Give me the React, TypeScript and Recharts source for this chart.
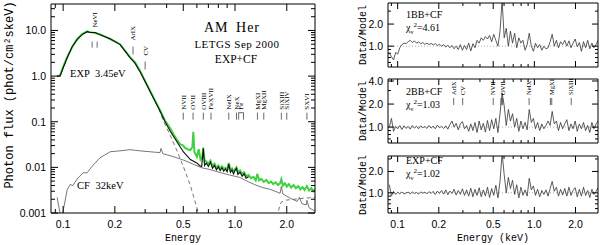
import React from 'react'
import { ComposedChart, Line, XAxis, YAxis, ReferenceLine } from 'recharts'

const SERIF = '"Liberation Serif", "Times New Roman", serif'
const MONO = '"Liberation Mono", "Courier New", monospace'
const SANS = '"Liberation Sans", Arial, sans-serif'

// ---- left panel: photon flux vs energy (keV) ----
const MODEL_E = [0.0923, 0.096, 0.1, 0.1055, 0.1128, 0.1206, 0.129, 0.138, 0.1435, 0.1534, 0.164, 0.1876, 0.2145, 0.245, 0.2623, 0.2804, 0.2998, 0.3205, 0.3427, 0.3664, 0.3918, 0.42, 0.46, 0.5, 0.55, 0.6, 0.62, 0.64, 0.654, 0.665, 0.68, 0.7, 0.72, 0.74, 0.76, 0.78, 0.8, 0.82, 0.84, 0.86, 0.88, 0.9, 0.92, 0.94, 0.96, 0.98, 1.0, 1.02, 1.04, 1.07, 1.1, 1.13, 1.16, 1.2]
const MODEL_F = [1.0, 1.0, 1.5, 2.5, 4.4, 6.3, 8.1, 9.4, 9.0, 9.0, 8.1, 6.6, 4.9, 2.55, 1.9, 1.25, 0.76, 0.46, 0.28, 0.17, 0.1, 0.062, 0.036, 0.022, 0.0148, 0.0125, 0.011, 0.0105, 0.026, 0.011, 0.0125, 0.0105, 0.013, 0.0095, 0.011, 0.0088, 0.0102, 0.0085, 0.0098, 0.0082, 0.0092, 0.008, 0.0118, 0.0078, 0.0088, 0.0072, 0.0085, 0.0095, 0.007, 0.0078, 0.0064, 0.0072, 0.0058, 0.0062]

const EXP_E = [0.0923, 0.096, 0.1, 0.1055, 0.1128, 0.1206, 0.129, 0.138, 0.1435, 0.1534, 0.164, 0.1876, 0.2145, 0.245, 0.2623, 0.2804, 0.2998, 0.3205, 0.3427, 0.3664, 0.38, 0.42, 0.46, 0.5, 0.55, 0.6, 0.63]
const EXP_F = [1.0, 1.0, 1.5, 2.5, 4.4, 6.3, 8.1, 9.4, 9.0, 9.0, 8.1, 6.6, 4.9, 2.55, 1.9, 1.25, 0.76, 0.46, 0.28, 0.165, 0.112, 0.05, 0.023, 0.0105, 0.004, 0.0013, 0.0007]

const DATA_E = [0.0923, 0.096, 0.1, 0.1055, 0.1128, 0.1206, 0.129, 0.138, 0.1435, 0.1534,
  0.164, 0.1876, 0.2145, 0.245, 0.2623, 0.2804, 0.2998, 0.3205, 0.3427, 0.3664,
  0.3918, 0.42, 0.44, 0.46, 0.48, 0.5, 0.51, 0.53, 0.55, 0.565,
  0.572, 0.58, 0.6, 0.615, 0.63, 0.645, 0.654, 0.665, 0.68, 0.7,
  0.72, 0.74, 0.76, 0.78, 0.8, 0.82, 0.84, 0.86, 0.88, 0.9,
  0.92, 0.94, 0.96, 0.98, 1.0, 1.02, 1.04, 1.07, 1.1, 1.13,
  1.16, 1.2, 1.24, 1.28, 1.32, 1.35, 1.38, 1.42, 1.47, 1.52,
  1.57, 1.62, 1.67, 1.72, 1.78, 1.83, 1.86, 1.9, 1.95, 2.0,
  2.06, 2.12, 2.19, 2.26, 2.33, 2.4, 2.47, 2.54, 2.62, 2.7,
  2.78, 2.86, 2.92]
const DATA_F = [1.0, 1.05, 1.6, 2.6, 4.3, 6.5, 8.3, 9.6, 9.2, 8.8,
  8.2, 6.5, 5.0, 2.6, 2.0, 1.3, 0.78, 0.48, 0.29, 0.18,
  0.105, 0.072, 0.052, 0.04, 0.032, 0.03, 0.027, 0.025, 0.024, 0.028,
  0.06, 0.022, 0.017, 0.025, 0.0148, 0.017, 0.027, 0.014, 0.0135, 0.012,
  0.014, 0.0105, 0.012, 0.0098, 0.011, 0.0095, 0.0105, 0.0092, 0.0098, 0.0088,
  0.0125, 0.0088, 0.0095, 0.008, 0.0092, 0.01, 0.0078, 0.0085, 0.0072, 0.0078,
  0.0064, 0.0068, 0.0058, 0.0062, 0.0052, 0.0072, 0.0052, 0.0056, 0.0048, 0.0053,
  0.0045, 0.0049, 0.0043, 0.0047, 0.0041, 0.0045, 0.0055, 0.004, 0.0045, 0.0038,
  0.0043, 0.0036, 0.0041, 0.0035, 0.0039, 0.0033, 0.0037, 0.0032, 0.0039, 0.0031,
  0.0035, 0.003, 0.0033]

const CF_E = [0.0923, 0.094, 0.096, 0.098, 0.1, 0.1055, 0.1098, 0.114, 0.122, 0.131,
  0.138, 0.147, 0.164, 0.188, 0.214, 0.245, 0.28, 0.32, 0.366, 0.371,
  0.38, 0.437, 0.5, 0.57, 0.64, 0.71, 0.82, 0.93, 1.07, 1.2,
  1.3, 1.45, 1.6, 1.75, 1.83, 1.86, 1.9, 2.1, 2.3, 2.37,
  2.45, 2.6, 2.62, 2.7, 2.92]
const CF_F = [0.0022, 0.0015, 0.001, 0.0009, 0.0011, 0.0032, 0.0042, 0.004, 0.0059, 0.0076,
  0.0076, 0.0104, 0.0163, 0.022, 0.023, 0.0244, 0.023, 0.022, 0.021, 0.026,
  0.02, 0.0172, 0.0145, 0.0118, 0.0098, 0.009, 0.0077, 0.0068, 0.006, 0.0048,
  0.0042, 0.0036, 0.0033, 0.0029, 0.0027, 0.0038, 0.0026, 0.0021, 0.0018, 0.0022,
  0.0016, 0.0015, 0.0019, 0.0013, 0.0011]

const HOT_E = [1.75, 1.8, 1.85, 1.95, 2.2, 2.5, 2.92]
const HOT_F = [0.0008, 0.0012, 0.0017, 0.0019, 0.002, 0.0021, 0.0022]

// line identifications
const TOP_IDS = ['NeVI', 'ArIX', 'CV']
const TOP_ID_E = [0.153, 0.255, 0.3]
const MID_IDS = ['NVII', 'OVII', 'OVIII', 'FeXVII', 'NeIX', 'NeX', 'Fe', 'MgXI', 'MgXII', 'SiXIII', 'SiXIV', 'SXVI']
const MID_ID_E = [0.5, 0.57, 0.654, 0.725, 0.92, 1.02, 1.085, 1.35, 1.47, 1.86, 2.0, 2.62]
const RES_IDS = ['ArIX', 'CV', 'NVII', 'OVII', 'NeIX', 'MgXI', 'SiXIII']
const RES_ID_E = [0.257, 0.299, 0.5, 0.585, 0.915, 1.34, 1.86]

// ---- right panels: data / model ratios ----
const RES_E = [0.087, 0.0901, 0.0933, 0.0967, 0.1001, 0.1037, 0.1074, 0.1113, 0.1152, 0.1194,
  0.1236, 0.1281, 0.1326, 0.1374, 0.1423, 0.1474, 0.1527, 0.1581, 0.1638, 0.1696,
  0.1757, 0.182, 0.1885, 0.1952, 0.2022, 0.2095, 0.217, 0.2247, 0.2328, 0.2411,
  0.2497, 0.2587, 0.2679, 0.2775, 0.2875, 0.2977, 0.3084, 0.3194, 0.3309, 0.3427,
  0.355, 0.3677, 0.3808, 0.3945, 0.4086, 0.4232, 0.4383, 0.454, 0.4703, 0.4871,
  0.5045, 0.5226, 0.5413, 0.5607, 0.5807, 0.6015, 0.623, 0.6453, 0.6684, 0.6923,
  0.7171, 0.7428, 0.7694, 0.7969, 0.8254, 0.855, 0.8855, 0.9172, 0.9501, 0.9841,
  1.019, 1.056, 1.094, 1.133, 1.173, 1.215, 1.259, 1.304, 1.35, 1.399,
  1.449, 1.501, 1.554, 1.61, 1.668, 1.727, 1.789, 1.853, 1.919, 1.988,
  2.059, 2.133, 2.209, 2.288, 2.37, 2.455, 2.543, 2.634, 2.728, 2.826,
  2.92]
const RES_1BB = [0.8, 0.72, 0.65, 0.82, 0.78, 0.95, 1.05, 1.1, 1.08, 1.15,
  1.2, 1.12, 1.18, 1.1, 1.14, 1.08, 1.12, 1.06, 1.1, 1.05,
  1.09, 1.04, 1.08, 1.02, 1.06, 1.0, 1.05, 0.97, 1.03, 0.95,
  1.02, 0.92, 1.0, 0.9, 1.05, 0.88, 1.02, 0.9, 1.1, 0.86,
  1.08, 0.95, 1.2, 1.1, 1.3, 1.2, 1.35, 1.25, 1.4, 1.15,
  1.45, 1.2, 1.0, 1.6, 4.2, 1.3, 1.75, 1.0, 1.6, 1.1,
  1.5, 0.95, 1.3, 1.1, 1.2, 0.88, 1.05, 1.5, 1.0, 0.85,
  1.1, 0.95, 1.05, 0.88, 1.0, 0.92, 0.95, 1.15, 1.45, 1.0,
  1.2, 0.95, 1.15, 1.05, 1.2, 1.0, 1.18, 0.95, 1.1, 1.25,
  0.98, 1.12, 0.85, 1.15, 0.95, 1.2, 0.92, 1.1, 0.95, 1.05,
  1.2]
const RES_2BB = [1.0, 1.3, 0.88, 1.02, 0.95, 1.05, 0.93, 1.04, 0.96, 1.02,
  0.94, 1.05, 0.97, 1.03, 0.95, 1.04, 0.98, 1.02, 0.96, 1.05,
  0.97, 1.03, 0.95, 1.06, 0.98, 1.02, 0.96, 1.04, 0.94, 1.08,
  1.2, 1.0, 1.12, 0.92, 1.1, 1.18, 0.95, 1.05, 0.88, 1.1,
  0.9, 1.15, 0.85, 1.2, 0.92, 1.12, 0.86, 1.22, 0.9, 1.25,
  0.95, 1.3, 0.85, 1.5, 2.8, 1.9, 1.05, 1.7, 1.2, 1.5,
  1.0, 1.3, 0.88, 1.2, 0.95, 1.15, 0.92, 1.7, 1.15, 1.3,
  0.95, 1.15, 0.9, 1.1, 0.95, 1.05, 1.2, 1.05, 1.6, 1.1,
  1.2, 0.9, 1.15, 0.95, 1.1, 1.25, 0.9, 1.1, 0.95, 1.2,
  0.88, 1.1, 0.95, 1.15, 0.9, 1.05, 0.85, 1.15, 0.95, 1.1,
  1.2]
const RES_EXP = [1.3, 0.9, 1.05, 0.95, 1.02, 0.97, 1.03, 0.96, 1.0, 1.02,
  0.97, 1.03, 0.98, 1.01, 0.96, 1.03, 0.99, 1.02, 0.97, 1.04,
  0.98, 1.05, 0.95, 1.06, 0.98, 1.08, 0.96, 1.1, 0.94, 1.06,
  0.98, 1.12, 0.93, 1.08, 0.95, 1.14, 0.92, 1.1, 0.9, 1.16,
  0.88, 1.12, 0.92, 1.18, 0.88, 1.1, 0.9, 1.2, 0.86, 1.15,
  0.92, 1.28, 0.85, 1.45, 3.6, 1.8, 1.0, 1.65, 1.15, 1.5,
  0.95, 1.3, 0.85, 1.2, 0.92, 1.1, 0.9, 1.6, 1.1, 1.25,
  0.92, 1.12, 0.88, 1.08, 0.95, 1.1, 0.9, 1.15, 1.45, 1.05,
  1.2, 0.9, 1.12, 0.93, 1.15, 0.9, 1.2, 0.92, 1.08, 1.18,
  0.88, 1.12, 0.9, 1.2, 0.92, 1.08, 0.86, 1.12, 0.95, 1.05,
  1.18]

// axis ticks
const E_TICKS = [0.09, 0.1, 0.2, 0.3, 0.4, 0.5, 0.6, 0.7, 0.8, 0.9, 1, 2]
const E_LABELS: Record<string, string> = { '0.1': '0.1', '0.2': '0.2', '0.5': '0.5', '1': '1.0', '2': '2.0' }
const FLUX_TICKS = [0.001, 0.002, 0.003, 0.004, 0.005, 0.006, 0.007, 0.008, 0.009,
  0.01, 0.02, 0.03, 0.04, 0.05, 0.06, 0.07, 0.08, 0.09,
  0.1, 0.2, 0.3, 0.4, 0.5, 0.6, 0.7, 0.8, 0.9,
  1, 2, 3, 4, 5, 6, 7, 8, 9, 10, 20, 30]
const FLUX_LABELS: Record<string, string> = { '0.001': '0.001', '0.01': '0.01', '0.1': '0.1', '1': '1.0', '10': '10.0' }
const RATIO_TICKS_A = [0.6, 0.7, 0.8, 0.9, 1, 2, 3]
const RATIO_TICKS_B = [0.7, 0.8, 0.9, 1, 2, 3, 4]
const RATIO_LABELS_A: Record<string, string> = { '1': '1.0', '2': '2.0' }
const RATIO_LABELS_B: Record<string, string> = { '1': '1.0', '2': '2.0', '4': '4.0' }

const E_DOMAIN: [number, number] = [0.085, 2.92]

const pts = (es: number[], fs: number[]) => es.map((e, i) => ({ e, f: fs[i] }))

function xTick(side: 'bottom' | 'top', labels: Record<string, string>, long: number, short: number, show: boolean) {
  return (p: any) => {
    const lab = labels[String(p.payload.value)]
    const len = lab ? long : short
    return (
      <g>
        <line x1={p.x} x2={p.x} y1={p.y} y2={side === 'bottom' ? p.y - len : p.y + len} stroke="#000" />
        {show && lab ? (
          <text x={p.x} y={p.y + 15} textAnchor="middle" fontSize={10.5} fontFamily={SANS} fill="#000">{lab}</text>
        ) : null}
      </g>
    )
  }
}

function yTick(side: 'left' | 'right', labels: Record<string, string>, long: number, short: number, show: boolean) {
  return (p: any) => {
    const lab = labels[String(p.payload.value)]
    const len = lab ? long : short
    return (
      <g>
        <line x1={p.x} x2={side === 'left' ? p.x + len : p.x - len} y1={p.y} y2={p.y} stroke="#000" />
        {show && lab ? (
          <text x={p.x - 5} y={p.y + 3.8} textAnchor="end" fontSize={10.5} fontFamily={SANS} fill="#000">{lab}</text>
        ) : null}
      </g>
    )
  }
}

function IdLabel(props: any) {
  const { viewBox, text, gap, fs } = props
  if (!viewBox) return null
  const x = viewBox.x + (viewBox.width || 0) / 2 + fs * 0.34
  const y = viewBox.y - gap
  return (
    <text x={x} y={y} transform={`rotate(-90 ${x} ${y})`} fontSize={fs} fontFamily={SERIF} fill="#000">{text}</text>
  )
}

function idMark(key: string, e: number, y1: number, y2: number, axes: any) {
  return (
    <ReferenceLine key={key} {...axes} segment={[{ x: e, y: y1 }, { x: e, y: y2 }]} stroke="#444" strokeWidth={0.8} />
  )
}

function idLabel(key: string, text: string, e: number, y1: number, y2: number, gap: number, fs: number, axes: any) {
  return (
    <ReferenceLine key={key} {...axes} segment={[{ x: e, y: y1 }, { x: e, y: y2 }]} stroke="none"
      label={<IdLabel text={text} gap={gap} fs={fs} />} />
  )
}

const axisLine = { stroke: '#000', strokeWidth: 1 }

// axes need a size of at least 1px to be drawn, so margins are 1px smaller than the frame
function FluxPanel() {
  const ax = { xAxisId: 'b', yAxisId: 'l' }
  return (
    <div style={{ position: 'absolute', left: 0, top: 0 }}>
      <ComposedChart width={600} height={245} margin={{ left: 50, right: 284, top: 3, bottom: 31 }}>
        <XAxis xAxisId="b" type="number" dataKey="e" scale="log" domain={E_DOMAIN} allowDataOverflow
          ticks={E_TICKS} interval={0} height={1} tickSize={0} tickMargin={0} tickLine={false}
          axisLine={axisLine} tick={xTick('bottom', E_LABELS, 7, 4, true)} />
        <XAxis xAxisId="t" orientation="top" type="number" dataKey="e" scale="log" domain={E_DOMAIN} allowDataOverflow
          ticks={E_TICKS} interval={0} height={1} tickSize={0} tickMargin={0} tickLine={false}
          axisLine={axisLine} tick={xTick('top', E_LABELS, 7, 4, false)} />
        <YAxis yAxisId="l" type="number" scale="log" domain={[0.001, 38]} allowDataOverflow
          ticks={FLUX_TICKS} interval={0} width={1} tickSize={0} tickMargin={0} tickLine={false}
          axisLine={axisLine} tick={yTick('left', FLUX_LABELS, 7, 4, true)} />
        <YAxis yAxisId="r" orientation="right" type="number" scale="log" domain={[0.001, 38]} allowDataOverflow
          ticks={FLUX_TICKS} interval={0} width={1} tickSize={0} tickMargin={0} tickLine={false}
          axisLine={axisLine} tick={yTick('right', FLUX_LABELS, 7, 4, false)} />
        <Line {...ax} data={pts(CF_E, CF_F)} dataKey="f" stroke="#555" strokeWidth={0.8} dot={false} isAnimationActive={false} />
        <Line {...ax} data={pts(EXP_E, EXP_F)} dataKey="f" stroke="#555" strokeWidth={0.8} strokeDasharray="4 3" dot={false} isAnimationActive={false} />
        <Line {...ax} data={pts(HOT_E, HOT_F)} dataKey="f" stroke="#555" strokeWidth={0.8} strokeDasharray="4 3" dot={false} isAnimationActive={false} />
        <Line {...ax} data={pts(DATA_E, DATA_F)} dataKey="f" stroke="#3fd13f" strokeWidth={2} dot={false} isAnimationActive={false} />
        <Line {...ax} data={pts(MODEL_E, MODEL_F)} dataKey="f" stroke="#111" strokeWidth={1.1} dot={false} isAnimationActive={false} />
        {/* NeVI doublet, ArIX, CV */}
        {idMark('nevi-a', 0.1475, 4.2, 5.7, ax)}
        {idMark('nevi-b', 0.1577, 4.2, 5.7, ax)}
        {idMark('arix', TOP_ID_E[1], 2.97, 4.43, ax)}
        {idMark('cv', TOP_ID_E[2], 1.39, 2.08, ax)}
        {idLabel('l-nevi', TOP_IDS[0], TOP_ID_E[0], 4.2, 5.7, 14, 7, ax)}
        {idLabel('l-arix', TOP_IDS[1], TOP_ID_E[1], 2.97, 4.43, 6, 7, ax)}
        {idLabel('l-cv', TOP_IDS[2], TOP_ID_E[2], 1.39, 2.08, 6, 7, ax)}
        {MID_IDS.map((n, i) => n === 'Fe' ? null : idMark('m' + n, MID_ID_E[i], 0.111, 0.158, ax))}
        {idMark('fe-a', 1.05, 0.111, 0.158, ax)}
        {idMark('fe-b', 1.12, 0.111, 0.158, ax)}
        <ReferenceLine {...ax} segment={[{ x: 1.05, y: 0.158 }, { x: 1.12, y: 0.158 }]} stroke="#444" strokeWidth={0.8} />
        {MID_IDS.map((n, i) => idLabel('ml' + n, n, MID_ID_E[i], 0.111, 0.158, 3, 7, ax))}
      </ComposedChart>
    </div>
  )
}

function ResPanel(props: { values: number[]; top: number; bottom: number; domain: [number, number]; ticks: number[]; labels: Record<string, string>; xLabels: boolean; ids?: boolean }) {
  const { values, top, bottom, domain, ticks, labels, xLabels, ids } = props
  const ax = { xAxisId: 'b', yAxisId: 'l' }
  return (
    <div style={{ position: 'absolute', left: 0, top: 0 }}>
      <ComposedChart width={600} height={245} margin={{ left: 387, right: 1, top: top - 1, bottom: 244 - bottom }}>
        <XAxis xAxisId="b" type="number" dataKey="e" scale="log" domain={E_DOMAIN} allowDataOverflow
          ticks={E_TICKS} interval={0} height={1} tickSize={0} tickMargin={0} tickLine={false}
          axisLine={axisLine} tick={xTick('bottom', E_LABELS, 6, 3, xLabels)} />
        <XAxis xAxisId="t" orientation="top" type="number" dataKey="e" scale="log" domain={E_DOMAIN} allowDataOverflow
          ticks={E_TICKS} interval={0} height={1} tickSize={0} tickMargin={0} tickLine={false}
          axisLine={axisLine} tick={xTick('top', E_LABELS, 6, 3, false)} />
        <YAxis yAxisId="l" type="number" scale="log" domain={domain} allowDataOverflow
          ticks={ticks} interval={0} width={1} tickSize={0} tickMargin={0} tickLine={false}
          axisLine={axisLine} tick={yTick('left', labels, 6, 3, true)} />
        <YAxis yAxisId="r" orientation="right" type="number" scale="log" domain={domain} allowDataOverflow
          ticks={ticks} interval={0} width={1} tickSize={0} tickMargin={0} tickLine={false}
          axisLine={axisLine} tick={yTick('right', labels, 6, 3, false)} />
        <ReferenceLine {...ax} y={1} stroke="#999" strokeWidth={0.8} strokeDasharray="1 2" />
        <Line {...ax} data={pts(RES_E, values)} dataKey="f" stroke="#333" strokeWidth={0.8} dot={false} isAnimationActive={false} />
        {ids ? RES_IDS.map((n, i) => idMark('r' + n, RES_ID_E[i], 1.94, 2.4, ax)) : null}
        {ids ? idMark('r-ovii-b', 0.57, 1.94, 2.4, ax) : null}
        {ids ? idMark('r-mgxi-b', 1.31, 1.94, 2.4, ax) : null}
        {ids ? RES_IDS.map((n, i) => idLabel('rl' + n, n, RES_ID_E[i], 1.94, 2.4, 3, 6.5, ax)) : null}
      </ComposedChart>
    </div>
  )
}

function Chi({ x, y, val }: { x: number; y: number; val: string }) {
  return (
    <text x={x} y={y} fontSize={10} fontFamily={SERIF} fill="#000">
      χ<tspan fontSize={6.5} dy={2.5}>ν</tspan><tspan fontSize={7} dy={-6.5}>2</tspan><tspan fontSize={10} dy={4}>={val}</tspan>
    </text>
  )
}

export default function App() {
  return (
    <div style={{ position: 'absolute', left: 0, top: 0, width: 600, height: 245, background: '#fff', overflow: 'hidden' }}>
      <FluxPanel />
      <ResPanel values={RES_1BB} top={3} bottom={67} domain={[0.52, 3.87]} ticks={RATIO_TICKS_A} labels={RATIO_LABELS_A} xLabels={false} />
      <ResPanel values={RES_2BB} top={79} bottom={143} domain={[0.62, 4.25]} ticks={RATIO_TICKS_B} labels={RATIO_LABELS_B} xLabels={false} ids />
      <ResPanel values={RES_EXP} top={156} bottom={213} domain={[0.52, 3.3]} ticks={RATIO_TICKS_A} labels={RATIO_LABELS_A} xLabels />
      <svg width={600} height={245} style={{ position: 'absolute', left: 0, top: 0, pointerEvents: 'none' }}>
        <text x={232} y={32} textAnchor="middle" fontSize={14} fontFamily={SERIF} letterSpacing={1} wordSpacing={3}>AM Her</text>
        <text x={237} y={48} textAnchor="middle" fontSize={11} fontFamily={SERIF} letterSpacing={0.5}>LETGS Sep 2000</text>
        <text x={236} y={63} textAnchor="middle" fontSize={11.5} fontFamily={SERIF}>EXP+CF</text>
        <text x={70} y={77} fontSize={10.5} fontFamily={SERIF} wordSpacing={3}>EXP 3.45eV</text>
        <text x={77} y={189} fontSize={10.5} fontFamily={SERIF} wordSpacing={3}>CF 32keV</text>
        <text x={183} y={241} textAnchor="middle" fontSize={10} fontFamily={MONO}>Energy</text>
        <text x={493} y={241} textAnchor="middle" fontSize={10} fontFamily={MONO}>Energy (keV)</text>
        <text x={12.5} y={95} textAnchor="middle" fontSize={12} fontFamily={MONO} transform="rotate(-90 12.5 95)">Photon flux (phot/cm²skeV)</text>
        <text x={366} y={35} textAnchor="middle" fontSize={10} fontFamily={MONO} transform="rotate(-90 366 35)">Data/Model</text>
        <text x={366} y={111} textAnchor="middle" fontSize={10} fontFamily={MONO} transform="rotate(-90 366 111)">Data/Model</text>
        <text x={366} y={185} textAnchor="middle" fontSize={10} fontFamily={MONO} transform="rotate(-90 366 185)">Data/Model</text>
        <text x={406} y={18} fontSize={10} fontFamily={SERIF}>1BB+CF</text>
        <Chi x={406} y={31} val="4.61" />
        <text x={406} y={95} fontSize={10} fontFamily={SERIF}>2BB+CF</text>
        <Chi x={406} y={108} val="1.03" />
        <text x={406} y={164} fontSize={10} fontFamily={SERIF}>EXP+CF</text>
        <Chi x={406} y={177} val="1.02" />
      </svg>
    </div>
  )
}
